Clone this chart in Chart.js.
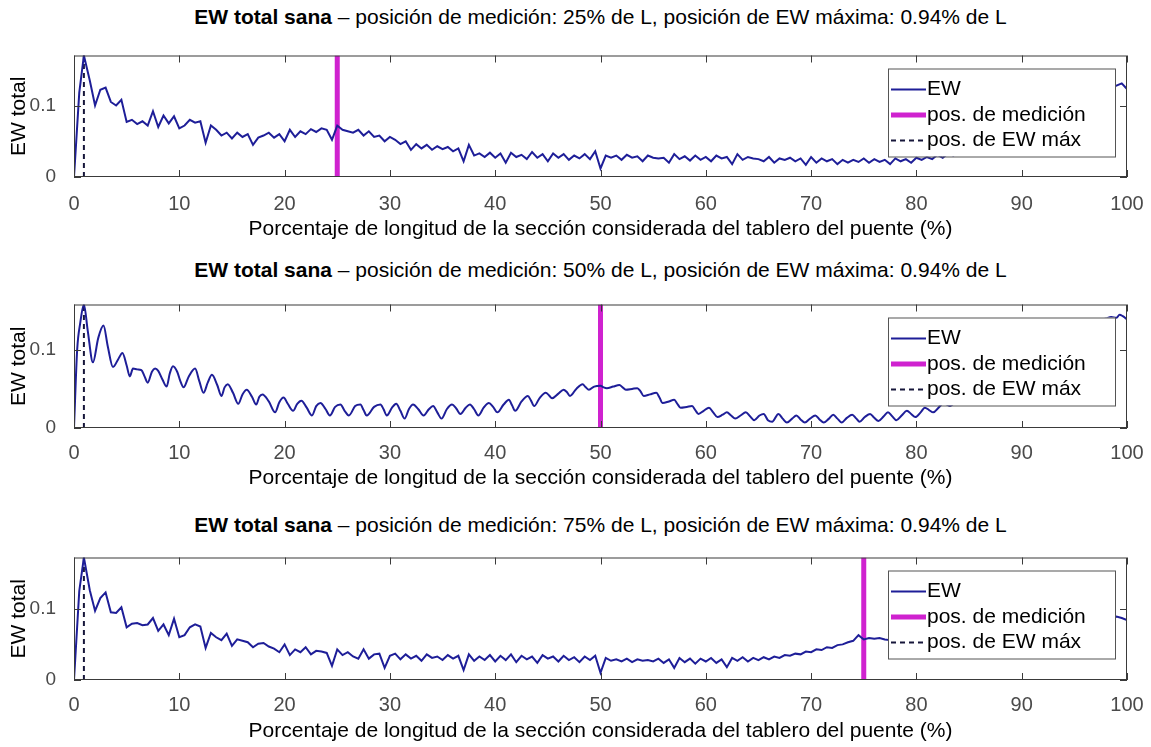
<!DOCTYPE html>
<html>
<head>
<meta charset="utf-8">
<script src="https://cdn.jsdelivr.net/npm/chart.js@4.4.1/dist/chart.umd.min.js"></script>
<style>
  body { margin: 0; width: 1151px; height: 747px; background: #fff; position: relative; overflow: hidden; }
  canvas { position: absolute; left: 0; }
  .title { position: absolute; left: 100px; width: 1001px; text-align: center; font: 21px "Liberation Sans", Arial, sans-serif; line-height: 24px; color: #000; white-space: nowrap; }
</style>
</head>
<body>
<div class="title" style="top: 5px"><b>EW total sana</b> – posición de medición: 25% de L, posición de EW máxima: 0.94% de L</div>
<canvas id="chart25" width="1151" height="204" style="top: 36px"></canvas>
<div class="title" style="top: 258px"><b>EW total sana</b> – posición de medición: 50% de L, posición de EW máxima: 0.94% de L</div>
<canvas id="chart50" width="1151" height="204" style="top: 285px"></canvas>
<div class="title" style="top: 513px"><b>EW total sana</b> – posición de medición: 75% de L, posición de EW máxima: 0.94% de L</div>
<canvas id="chart75" width="1151" height="204" style="top: 538px"></canvas>
<script>
// tick labels and legend text
const xTicks = [0, 10, 20, 30, 40, 50, 60, 70, 80, 90, 100];
const yTicks = [0, 0.1];
const legendLabels = ["EW", "pos. de medición", "pos. de EW máx"];
const xTitle = "Porcentaje de longitud de la sección considerada del tablero del puente (%)";
const yTitle = "EW total";

const peakPos = 0.94;

// sample positions (% of L) for the 25% and 75% curves
const xs13 = [
  0, 0.5, 0.94, 1.5, 2, 2.5, 3, 3.5, 4, 4.5,
  5, 5.5, 6, 6.5, 7, 7.5, 8, 8.5, 9, 9.5,
  10, 10.5, 11, 11.5, 12, 12.5, 13, 13.5, 14, 14.5,
  15, 15.5, 16, 16.5, 17, 17.5, 18, 18.5, 19, 19.5,
  20, 20.5, 21, 21.5, 22, 22.5, 23, 23.5, 24, 24.5,
  25, 25.5, 26, 26.5, 27, 27.5, 28, 28.5, 29, 29.5,
  30, 30.5, 31, 31.5, 32, 32.5, 33, 33.5, 34, 34.5,
  35, 35.5, 36, 36.5, 37, 37.5, 38, 38.5, 39, 39.5,
  40, 40.5, 41, 41.5, 42, 42.5, 43, 43.5, 44, 44.5,
  45, 45.5, 46, 46.5, 47, 47.5, 48, 48.5, 49, 49.5,
  50, 50.5, 51, 51.5, 52, 52.5, 53, 53.5, 54, 54.5,
  55, 55.5, 56, 56.5, 57, 57.5, 58, 58.5, 59, 59.5,
  60, 60.5, 61, 61.5, 62, 62.5, 63, 63.5, 64, 64.5,
  65, 65.5, 66, 66.5, 67, 67.5, 68, 68.5, 69, 69.5,
  70, 70.5, 71, 71.5, 72, 72.5, 73, 73.5, 74, 74.5,
  75, 75.5, 76, 76.5, 77, 77.5, 78, 78.5, 79, 79.5,
  80, 80.5, 81, 81.5, 82, 82.5, 83, 83.5, 84, 84.5,
  85, 85.5, 86, 86.5, 87, 87.5, 88, 88.5, 89, 89.5,
  90, 90.5, 91, 91.5, 92, 92.5, 93, 93.5, 94, 94.5,
  95, 95.5, 96, 96.5, 97, 97.5, 98, 98.5, 99, 99.5,
  100
];

// EW total, measured at 25% of L
const ew25 = [
  0, 0.118, 0.170, 0.135, 0.100, 0.122, 0.125, 0.105, 0.100, 0.108,
  0.077, 0.080, 0.074, 0.078, 0.072, 0.092, 0.070, 0.086, 0.075, 0.085,
  0.068, 0.072, 0.080, 0.076, 0.078, 0.048, 0.072, 0.066, 0.058, 0.062,
  0.054, 0.062, 0.056, 0.060, 0.045, 0.055, 0.058, 0.062, 0.055, 0.060,
  0.050, 0.066, 0.056, 0.064, 0.060, 0.067, 0.063, 0.068, 0.066, 0.052,
  0.072, 0.066, 0.064, 0.062, 0.066, 0.058, 0.064, 0.056, 0.058, 0.050,
  0.056, 0.052, 0.046, 0.050, 0.038, 0.046, 0.040, 0.045, 0.038, 0.043,
  0.039, 0.042, 0.036, 0.040, 0.022, 0.045, 0.030, 0.033, 0.028, 0.034,
  0.027, 0.033, 0.020, 0.034, 0.028, 0.031, 0.025, 0.035, 0.027, 0.032,
  0.022, 0.033, 0.027, 0.032, 0.024, 0.030, 0.026, 0.032, 0.025, 0.036,
  0.012, 0.030, 0.027, 0.030, 0.024, 0.031, 0.027, 0.029, 0.022, 0.030,
  0.027, 0.026, 0.027, 0.020, 0.032, 0.025, 0.029, 0.023, 0.030, 0.024,
  0.028, 0.022, 0.030, 0.026, 0.028, 0.018, 0.032, 0.024, 0.028, 0.026,
  0.025, 0.022, 0.028, 0.020, 0.026, 0.024, 0.027, 0.022, 0.026, 0.017,
  0.028, 0.020, 0.026, 0.022, 0.025, 0.018, 0.024, 0.020, 0.024, 0.021,
  0.026, 0.020, 0.025, 0.021, 0.024, 0.018, 0.026, 0.022, 0.025, 0.020,
  0.027, 0.024, 0.028, 0.025, 0.031, 0.027, 0.033, 0.030, 0.036, 0.034,
  0.040, 0.042, 0.046, 0.050, 0.054, 0.057, 0.061, 0.064, 0.068, 0.071,
  0.075, 0.078, 0.082, 0.085, 0.089, 0.092, 0.095, 0.098, 0.101, 0.104,
  0.107, 0.110, 0.112, 0.115, 0.117, 0.119, 0.121, 0.123, 0.128, 0.131,
  0.123
];

// EW total, measured at 75% of L
const ew75 = [
  0, 0.125, 0.172, 0.126, 0.097, 0.115, 0.123, 0.095, 0.094, 0.102,
  0.074, 0.079, 0.080, 0.077, 0.078, 0.087, 0.069, 0.078, 0.063, 0.086,
  0.060, 0.063, 0.074, 0.078, 0.075, 0.045, 0.066, 0.060, 0.056, 0.065,
  0.048, 0.057, 0.055, 0.053, 0.046, 0.051, 0.052, 0.047, 0.044, 0.039,
  0.050, 0.035, 0.043, 0.039, 0.046, 0.036, 0.041, 0.040, 0.038, 0.020,
  0.043, 0.035, 0.039, 0.033, 0.030, 0.043, 0.030, 0.036, 0.037, 0.017,
  0.034, 0.037, 0.029, 0.036, 0.030, 0.034, 0.027, 0.036, 0.031, 0.033,
  0.028, 0.035, 0.030, 0.034, 0.014, 0.036, 0.027, 0.033, 0.028, 0.035,
  0.026, 0.034, 0.028, 0.036, 0.025, 0.034, 0.029, 0.033, 0.024, 0.035,
  0.030, 0.033, 0.026, 0.034, 0.028, 0.032, 0.025, 0.033, 0.028, 0.034,
  0.010, 0.031, 0.027, 0.029, 0.026, 0.030, 0.025, 0.029, 0.027, 0.028,
  0.026, 0.030, 0.024, 0.029, 0.017, 0.031, 0.025, 0.030, 0.023, 0.030,
  0.026, 0.031, 0.024, 0.029, 0.018, 0.031, 0.027, 0.032, 0.026, 0.031,
  0.028, 0.032, 0.029, 0.033, 0.031, 0.035, 0.034, 0.037, 0.036, 0.040,
  0.039, 0.043, 0.042, 0.046, 0.045, 0.049, 0.050, 0.053, 0.055, 0.063,
  0.057, 0.059, 0.058, 0.059, 0.057, 0.056, 0.053, 0.051, 0.048, 0.046,
  0.044, 0.043, 0.042, 0.040, 0.036, 0.040, 0.034, 0.039, 0.035, 0.039,
  0.033, 0.038, 0.034, 0.037, 0.033, 0.038, 0.037, 0.039, 0.038, 0.040,
  0.042, 0.044, 0.047, 0.050, 0.053, 0.056, 0.059, 0.062, 0.065, 0.067,
  0.070, 0.072, 0.075, 0.077, 0.079, 0.081, 0.083, 0.085, 0.089, 0.087,
  0.084
];

// EW total, measured at 50% of L (peaks and troughs of the ripple)
const xs50 = [
  0, 0.3, 0.6, 0.94, 1.3, 1.8, 2.3, 2.8, 3.2, 3.7,
  4.2, 4.6, 5.0, 5.3, 5.6, 6.0, 6.4, 6.7, 7.0, 7.4,
  7.7, 8.0, 8.4, 8.8, 9.1, 9.4, 9.8, 10.1, 10.4, 10.9,
  11.5, 11.9, 12.3, 12.7, 13.1, 13.6, 14.0, 14.3, 14.6, 15.1,
  15.6, 16.0, 16.4, 16.9, 17.3, 17.6, 17.9, 18.5, 19.1, 19.5,
  19.9, 20.3, 20.8, 21.2, 21.6, 22.1, 22.6, 23.0, 23.4, 23.9,
  24.3, 24.8, 25.3, 25.7, 26.1, 26.7, 27.2, 27.5, 27.8, 28.5,
  29.1, 29.4, 29.7, 30.2, 30.6, 31.0, 31.4, 31.8, 32.2, 32.7,
  33.2, 33.7, 34.1, 34.5, 34.9, 35.4, 35.9, 36.3, 36.7, 37.2,
  37.6, 38.0, 38.4, 38.9, 39.4, 39.8, 40.2, 40.8, 41.3, 41.6,
  41.9, 42.5, 43.1, 43.4, 43.7, 44.2, 44.8, 45.1, 45.4, 46.0,
  46.5, 46.8, 47.1, 47.7, 48.3, 48.6, 48.9, 49.4, 50.0, 50.3,
  50.6, 51.2, 51.8, 52.1, 52.4, 53.0, 53.5, 53.8, 54.1, 54.7,
  55.3, 55.6, 55.9, 56.5, 57.0, 57.3, 57.6, 58.2, 58.7, 59.0,
  59.3, 59.8, 60.3, 60.7, 61.1, 61.6, 62.0, 62.4, 62.8, 63.3,
  63.8, 64.2, 64.6, 65.1, 65.5, 65.9, 66.3, 66.9, 67.3, 67.7,
  68.2, 68.6, 69.0, 69.4, 69.9, 70.4, 70.8, 71.2, 71.7, 72.1,
  72.5, 72.9, 73.4, 73.9, 74.3, 74.6, 75.1, 75.6, 76.0, 76.4,
  76.9, 77.3, 77.7, 78.1, 78.6, 79.1, 79.5, 79.9, 80.4, 80.8,
  81.2, 81.6, 82.1, 82.6, 82.9, 83.2, 83.7, 84.2, 84.6, 85.0,
  85.5, 86.0, 86.5, 87.0, 87.5, 88.0, 88.5, 89.0, 89.5, 90.0,
  90.5, 91.0, 91.5, 92.0, 92.5, 93.0, 93.5, 94.0, 94.5, 95.0,
  95.5, 96.0, 96.5, 97.0, 97.5, 98.0, 98.5, 99.0, 99.3, 99.6,
  100
];
const ew50 = [
  0, 0.100, 0.135, 0.158, 0.125, 0.084, 0.115, 0.131, 0.105, 0.078,
  0.088, 0.096, 0.080, 0.066, 0.076, 0.075, 0.074, 0.066, 0.058, 0.072,
  0.076, 0.073, 0.062, 0.053, 0.070, 0.079, 0.072, 0.060, 0.052, 0.066,
  0.076, 0.060, 0.045, 0.058, 0.068, 0.055, 0.041, 0.052, 0.056, 0.045,
  0.031, 0.043, 0.049, 0.040, 0.030, 0.040, 0.043, 0.034, 0.020, 0.033,
  0.039, 0.031, 0.022, 0.031, 0.035, 0.026, 0.016, 0.028, 0.032, 0.024,
  0.016, 0.027, 0.030, 0.022, 0.016, 0.028, 0.030, 0.023, 0.016, 0.027,
  0.030, 0.024, 0.016, 0.026, 0.031, 0.022, 0.012, 0.024, 0.030, 0.024,
  0.016, 0.024, 0.028, 0.020, 0.012, 0.024, 0.030, 0.025, 0.018, 0.026,
  0.030, 0.024, 0.016, 0.026, 0.032, 0.027, 0.020, 0.030, 0.036, 0.029,
  0.022, 0.034, 0.041, 0.035, 0.028, 0.038, 0.045, 0.042, 0.038, 0.044,
  0.049, 0.046, 0.041, 0.050, 0.056, 0.052, 0.049, 0.053, 0.054, 0.052,
  0.051, 0.053, 0.055, 0.052, 0.049, 0.050, 0.051, 0.047, 0.041, 0.043,
  0.045, 0.039, 0.032, 0.034, 0.036, 0.031, 0.026, 0.027, 0.028, 0.023,
  0.018, 0.022, 0.026, 0.020, 0.014, 0.017, 0.020, 0.016, 0.012, 0.016,
  0.020, 0.015, 0.010, 0.016, 0.018, 0.010, 0.008, 0.018, 0.012, 0.007,
  0.012, 0.016, 0.011, 0.007, 0.012, 0.016, 0.011, 0.007, 0.012, 0.017,
  0.012, 0.007, 0.013, 0.017, 0.012, 0.008, 0.014, 0.018, 0.013, 0.009,
  0.015, 0.020, 0.015, 0.010, 0.016, 0.022, 0.018, 0.014, 0.020, 0.026,
  0.023, 0.020, 0.026, 0.032, 0.030, 0.028, 0.034, 0.038, 0.037, 0.042,
  0.046, 0.050, 0.054, 0.058, 0.062, 0.066, 0.070, 0.075, 0.079, 0.084,
  0.088, 0.093, 0.097, 0.101, 0.105, 0.109, 0.113, 0.117, 0.120, 0.124,
  0.127, 0.130, 0.133, 0.135, 0.138, 0.140, 0.142, 0.141, 0.145, 0.143,
  0.139
];

const ewColor = "#1e1e98";
const measColor = "#cf22cf";
const maxColor = "#16163a";
const frameColor = "#3a3a3a";
const tickColor = "#4a4a4a";
const sansFont = "'Liberation Sans', Arial, sans-serif";

// MATLAB-like box with inward ticks, plus the legend on top of the data
const matlabFrame = {
  id: "matlabFrame",
  afterDatasetsDraw(chart) {
    const { ctx, chartArea: a, scales } = chart;
    ctx.save();
    ctx.strokeStyle = frameColor;
    ctx.lineWidth = 1;
    ctx.strokeRect(a.left + 0.5, a.top + 0.5, a.right - a.left - 1, a.bottom - a.top - 1);
    ctx.beginPath();
    for (const t of scales.x.ticks) {
      const px = Math.round(scales.x.getPixelForValue(t.value)) + 0.5;
      ctx.moveTo(px, a.bottom);
      ctx.lineTo(px, a.bottom - 7);
      ctx.moveTo(px, a.top);
      ctx.lineTo(px, a.top + 7);
    }
    for (const t of scales.y.ticks) {
      const py = Math.round(scales.y.getPixelForValue(t.value)) + 0.5;
      ctx.moveTo(a.left, py);
      ctx.lineTo(a.left + 7, py);
      ctx.moveTo(a.right, py);
      ctx.lineTo(a.right - 7, py);
    }
    ctx.stroke();

    // legend
    const lx = a.left + 814;
    const ly = a.top + 13;
    ctx.fillStyle = "#fff";
    ctx.fillRect(lx, ly, 227, 88);
    ctx.strokeStyle = "#555";
    ctx.strokeRect(lx + 0.5, ly + 0.5, 227, 88);
    const rows = [21, 46.5, 72];
    const styles = [
      { color: ewColor, width: 2, dash: [] },
      { color: measColor, width: 5, dash: [] },
      { color: maxColor, width: 2, dash: [5, 4] },
    ];
    ctx.font = "21px " + sansFont;
    ctx.textBaseline = "middle";
    legendLabels.forEach((label, i) => {
      const y = ly + rows[i];
      ctx.beginPath();
      ctx.setLineDash(styles[i].dash);
      ctx.strokeStyle = styles[i].color;
      ctx.lineWidth = styles[i].width;
      ctx.moveTo(lx + 3, y);
      ctx.lineTo(lx + 38, y);
      ctx.stroke();
      ctx.setLineDash([]);
      ctx.fillStyle = "#000";
      ctx.fillText(label, lx + 39, y);
    });
    ctx.restore();
  },
};

function buildChart(id, xs, ys, measPos, yMax, xAxisHeight, tickPad, smooth) {
  const ewPoints = xs.map((x, i) => ({ x: x, y: ys[i] }));
  const peak = Math.max(...ys);
  return new Chart(document.getElementById(id), {
    type: "line",
    data: {
      datasets: [
        {
          label: legendLabels[0],
          data: ewPoints,
          borderColor: ewColor,
          borderWidth: 2,
          pointRadius: 0,
          cubicInterpolationMode: smooth ? "monotone" : "default",
          tension: 0,
        },
        {
          label: legendLabels[1],
          data: [{ x: measPos, y: 0 }, { x: measPos, y: yMax }],
          borderColor: measColor,
          borderWidth: 5,
          pointRadius: 0,
        },
        {
          label: legendLabels[2],
          data: [{ x: peakPos, y: 0 }, { x: peakPos, y: peak }],
          borderColor: maxColor,
          borderWidth: 2,
          borderDash: [5, 4],
          pointRadius: 0,
        },
      ],
    },
    options: {
      responsive: false,
      animation: false,
      layout: { padding: { top: 9, right: 24, left: 0, bottom: 0 } },
      plugins: { legend: { display: false }, tooltip: { enabled: false } },
      scales: {
        x: {
          type: "linear",
          min: 0,
          max: 100,
          grid: { display: false },
          border: { display: false },
          afterBuildTicks: (s) => { s.ticks = xTicks.map((v) => ({ value: v })); },
          afterFit: (s) => {
            s.height = xAxisHeight;
            s.paddingLeft = 0;
            s.paddingRight = 0;
          },
          ticks: {
            padding: tickPad,
            color: tickColor,
            font: { family: sansFont, size: 20, lineHeight: 1 },
            maxRotation: 0,
            autoSkip: false,
          },
          title: {
            display: true,
            text: xTitle,
            color: "#000",
            font: { family: sansFont, size: 21, lineHeight: 1 },
            padding: { top: 0, bottom: 0.5 },
          },
        },
        y: {
          min: 0,
          max: yMax,
          grid: { display: false },
          border: { display: false },
          afterBuildTicks: (s) => { s.ticks = yTicks.map((v) => ({ value: v })); },
          afterFit: (s) => { s.width = 74; },
          ticks: {
            padding: 10,
            color: tickColor,
            font: { family: sansFont, size: 19, lineHeight: 1 },
            callback: (v) => String(v),
          },
          title: {
            display: true,
            text: yTitle,
            color: "#000",
            font: { family: sansFont, size: 21, lineHeight: 1 },
            padding: { top: 9, bottom: 0 },
          },
        },
      },
    },
    plugins: [matlabFrame],
  });
}

buildChart("chart25", xs13, ew25, 25, 0.170, 63, 9.5, false);
buildChart("chart50", xs50, ew50, 50, 0.158, 61, 7.5, true);
buildChart("chart75", xs13, ew75, 75, 0.172, 62, 7, false);
</script>
</body>
</html>
